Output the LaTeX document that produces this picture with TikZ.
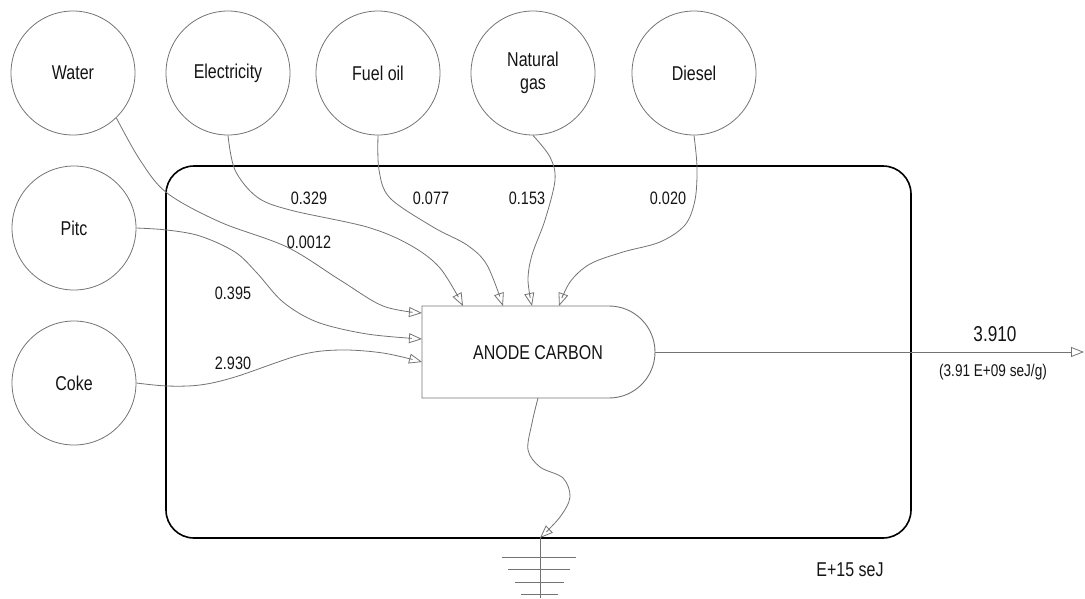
\documentclass[tikz,border=0pt]{standalone}
\usepackage{fontspec}
\setmainfont[FakeStretch=0.8]{Liberation Sans}
\usetikzlibrary{arrows.meta}

\begin{document}
\begin{tikzpicture}[x=1pt,y=-1pt,
  src/.style={circle,draw=black!55,line width=0.8pt,minimum size=124pt,inner sep=0pt,
              font=\fontsize{20}{23}\selectfont,text=black!92,align=center},
  flow/.style={draw=black!55,line width=0.8pt,-{Triangle[open,length=13pt,width=10pt]}},
  val/.style={font=\fontsize{18}{20}\selectfont,text=black!92},
  system/.style={draw=black,line width=1.6pt,rounded corners=28pt},
  proc/.style={draw=black!55,line width=0.9pt},
  groundline/.style={draw=black!55,line width=0.9pt},
]
\useasboundingbox (0,0) rectangle (1085,598);

% system boundary
\draw[system] (166,166) rectangle (911,538);

% sources
\node[src] (water) at (73,73)  {Water};
\node[src] (elec)  at (228,73) {Electricity};
\node[src] (fuel)  at (378,73) {Fuel oil};
\node[src] (gas)   at (533,73) {Natural\\gas};
\node[src] (diesel) at (694,73) {Diesel};
\node[src] (pitc)  at (74,228) {Pitc};
\node[src] (coke)  at (74,383) {Coke};

% production process (rectangle with rounded front)
\draw[proc] (422,306) -- (609,306) arc[start angle=-90,end angle=90,radius=46] -- (422,398) -- cycle;
\node[font=\fontsize{20}{23}\selectfont,text=black!92] (anode) at (538,353) {ANODE CARBON};

% inlets and outlets of the process
\coordinate (inW) at (422,313);
\coordinate (inP) at (422,339);
\coordinate (inC) at (422,362);
\coordinate (inE) at (463,306);
\coordinate (inF) at (503,306);
\coordinate (inG) at (532,306);
\coordinate (inD) at (559,306);
\coordinate (out) at (655,352);
\coordinate (outEnd) at (1084,352);
\coordinate (loss) at (538,398);
\coordinate (gnd) at (540,538);
\coordinate (gndEnd) at (540,598);

% input flows
\draw[flow] plot[smooth,tension=0.55] coordinates
  {(water.-46) (140,160) (167,193) (220,222) (287,247) (340,280) (383,306) (inW)};
\draw[flow] plot[smooth,tension=0.55] coordinates
  {(elec.-90) (235,170) (257,197) (290,210) (367,227) (410,245) (440,268) (inE)};
\draw[flow] plot[smooth,tension=0.55] coordinates
  {(fuel.-90) (379,170) (390,198) (433,227) (467,245) (487,265) (inF)};
\draw[flow] plot[smooth,tension=0.55] coordinates
  {(gas.-90) (550,157) (555,180) (545,220) (532,255) (528,280) (inG)};
\draw[flow] plot[smooth,tension=0.55] coordinates
  {(diesel.-90) (697,167) (695,200) (685,225) (660,242) (623,252) (590,264) (570,282) (inD)};
\draw[flow] plot[smooth,tension=0.55] coordinates
  {(pitc.0) (167,230) (200,236) (235,252) (257,273) (283,302) (317,322) (367,334) (inP)};
\draw[flow] plot[smooth,tension=0.55] coordinates
  {(coke.0) (167,386) (200,385) (235,377) (300,355) (340,350) (383,353) (inC)};

% output and heat sink
\draw[flow] (out) -- (outEnd);
\draw[flow] plot[smooth,tension=0.55] coordinates
  {(loss) (532,423) (528,450) (540,467) (563,478) (570,497) (560,517) (gnd)};

% ground symbol
\draw[groundline] (gnd) -- (gndEnd);
\draw[groundline] (502,557) -- (576,557);
\draw[groundline] (508,569) -- (570,569);
\draw[groundline] (515,582) -- (564,582);
\draw[groundline] (521,594) -- (558,594);

% flow values
\node[val] (vE) at (309,198) {0.329};
\node[val] (vF) at (431,198) {0.077};
\node[val] (vG) at (527,198) {0.153};
\node[val] (vD) at (668,198) {0.020};
\node[val] (vW) at (309,242) {0.0012};
\node[val] (vP) at (233,293) {0.395};
\node[val] (vC) at (233,363) {2.930};
\node[font=\fontsize{21.5}{24}\selectfont,text=black!92] (vOut) at (995,334) {3.910};
\node[font=\fontsize{17}{20}\selectfont,text=black!92] (vUnit) at (993,372) {(3.91 E+09 seJ/g)};
\node[font=\fontsize{20}{23}\selectfont,text=black!92] (scale) at (850,570) {E+15 seJ};

\end{tikzpicture}
\end{document}
